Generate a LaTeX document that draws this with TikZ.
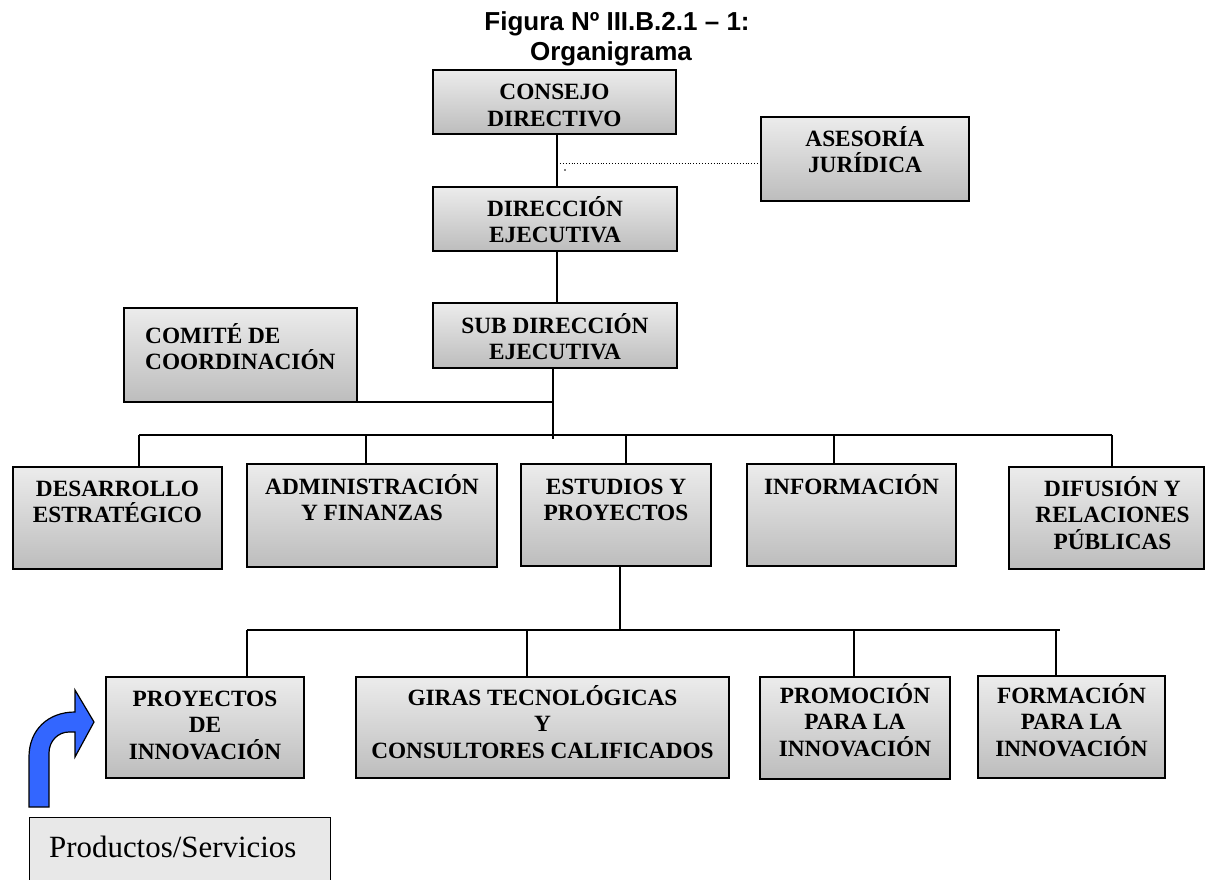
\documentclass[tikz,border=0pt]{standalone}
\usepackage{fontspec}
\setmainfont{Liberation Serif}
\newfontfamily\titlefont{Liberation Sans}
\usetikzlibrary{calc}

\definecolor{arrowblue}{RGB}{51,102,255}
\newcommand\firststrut{\rule{0pt}{20pt}}

\tikzset{
  orgbox/.style={draw=black, line width=1.3pt, top color=gray!15, bottom color=gray!52,
                 inner sep=0pt, outer sep=0pt},
  orgtext/.style={inner sep=0pt, align=center, font=\bfseries\fontsize{23.3}{26.5}\selectfont},
  link/.style={line width=1.5pt, black},
  titletext/.style={inner sep=0pt, anchor=base, font=\titlefont\bfseries\fontsize{26}{30}\selectfont},
}

% #1 name, (#2,#3) top-left corner, (#4,#5) bottom-right corner
\newcommand\orgunit[5]{%
  \node[orgbox, anchor=north west,
        minimum width={(#4)*1pt-(#2)*1pt},
        minimum height={(#5)*1pt-(#3)*1pt}] (#1) at (#2,#3) {};}

\begin{document}
\begin{tikzpicture}[x=1pt, y=-1pt]
\useasboundingbox (0,0) rectangle (1205,880);
\clip (0,0) rectangle (1205,880);

% title
\node[titletext] (t1) at (617,31) {Figura Nº III.B.2.1 – 1:};
\node[titletext] (t2) at (611,61) {Organigrama};

% boxes
\orgunit{cd}{433}{70}{676}{134}
\orgunit{aj}{761}{117}{969}{201}
\orgunit{de}{433}{187}{677}{251}
\orgunit{sd}{433}{303}{677}{368}
\orgunit{cc}{124}{308}{357}{402}
\orgunit{ds}{13}{467}{222}{569}
\orgunit{af}{247}{464}{497}{567}
\orgunit{ep}{521}{464}{711}{566}
\orgunit{in}{747}{464}{956}{566}
\orgunit{dr}{1009}{467}{1204}{569}
\orgunit{pi}{106}{677}{304}{778}
\orgunit{gt}{356}{677}{729}{778}
\orgunit{pr}{760}{677}{950}{779}
\orgunit{fo}{978}{676}{1165}{778}

% labels
\node[orgtext, anchor=north] (cd-t) at ([yshift=-9.5pt]cd.north) {\firststrut CONSEJO\\DIRECTIVO};
\node[orgtext, anchor=north] (aj-t) at ([yshift=-9pt]aj.north) {\firststrut ASESORÍA\\JURÍDICA};
\node[orgtext, anchor=north] (de-t) at ([yshift=-9pt]de.north) {\firststrut DIRECCIÓN\\EJECUTIVA};
\node[orgtext, anchor=north] (sd-t) at ([yshift=-10pt]sd.north) {\firststrut SUB DIRECCIÓN\\EJECUTIVA};
\node[orgtext, anchor=north west, align=left] (cc-t) at (145,323) {\firststrut COMITÉ DE\\COORDINACIÓN};
\node[orgtext, anchor=north] (ds-t) at ([yshift=-9pt]ds.north) {\firststrut DESARROLLO\\ESTRATÉGICO};
\node[orgtext, anchor=north] (af-t) at ([yshift=-10pt]af.north) {\firststrut ADMINISTRACIÓN\\Y FINANZAS};
\node[orgtext, anchor=north] (ep-t) at ([yshift=-10pt]ep.north) {\firststrut ESTUDIOS Y\\PROYECTOS};
\node[orgtext, anchor=north] (in-t) at ([yshift=-10pt]in.north) {\firststrut INFORMACIÓN};
\node[orgtext, anchor=north] (dr-t) at ([xshift=6pt,yshift=-9pt]dr.north) {\firststrut DIFUSIÓN Y\\RELACIONES\\PÚBLICAS};
\node[orgtext, anchor=north] (pi-t) at ([yshift=-9pt]pi.north) {\firststrut PROYECTOS\\DE\\INNOVACIÓN};
\node[orgtext, anchor=north] (gt-t) at ([yshift=-8pt]gt.north) {\firststrut GIRAS TECNOLÓGICAS\\Y\\CONSULTORES CALIFICADOS};
\node[orgtext, anchor=north] (pr-t) at ([yshift=-6pt]pr.north) {\firststrut PROMOCIÓN\\PARA LA\\INNOVACIÓN};
\node[orgtext, anchor=north] (fo-t) at ([yshift=-7pt]fo.north) {\firststrut FORMACIÓN\\PARA LA\\INNOVACIÓN};

% junction points
\coordinate (jtop) at (557,163);
\coordinate (jsub) at (553,439);
\coordinate (bus1L) at (139,435);
\coordinate (bus1R) at (1112,435);
\coordinate (jep) at (620,630);
\coordinate (bus2L) at (247,630);
\coordinate (bus2R) at (1060,630);

% upper chain
\draw[link] (cd.south -| jtop) -- (de.north -| jtop);
\draw[link] (de.south -| jtop) -- (sd.north -| jtop);
\draw[line width=0.9pt, dotted] (jtop) -- (jtop -| aj.west);
\fill (565,170) circle (0.9pt);
\draw[link] (sd.south -| jsub) -- (jsub);
\draw[link] (cc.south east) -- (cc.south east -| jsub);

% first level
\draw[link] (bus1L) -- (bus1R);
\draw[link] (bus1L) -- (ds.north -| bus1L);
\draw[link] (366,435) -- (af.north -| 366,435);
\draw[link] (626,435) -- (ep.north -| 626,435);
\draw[link] (834,435) -- (in.north -| 834,435);
\draw[link] (bus1R) -- (dr.north -| bus1R);

% second level
\draw[link] (ep.south -| jep) -- (jep);
\draw[link] (bus2L) -- (bus2R);
\draw[link] (bus2L) -- (pi.north -| bus2L);
\draw[link] (527,630) -- (gt.north -| 527,630);
\draw[link] (854,630) -- (pr.north -| 854,630);
\draw[link] (1056,630) -- (fo.north -| 1056,630);

% bent arrow
\filldraw[fill=arrowblue, draw=black, line width=1.2pt, line join=miter]
  (29,807) -- (29,757) .. controls (29,730) and (48,712) .. (75,712)
  -- (75,690) -- (94,722) -- (75,757) -- (75,732) -- (69,732)
  .. controls (58,732) and (49,741) .. (49,753) -- (49,807) -- cycle;

% products / services box
\node[draw=black, line width=1.3pt, fill=gray!18, anchor=north west, inner sep=0pt,
      minimum width=301pt, minimum height=80pt] (ps) at (29,817) {};
\node[anchor=base west, inner sep=0pt, font=\fontsize{30.9}{36}\selectfont] (ps-t) at (49,857) {Productos/Servicios};
\end{tikzpicture}
\end{document}
